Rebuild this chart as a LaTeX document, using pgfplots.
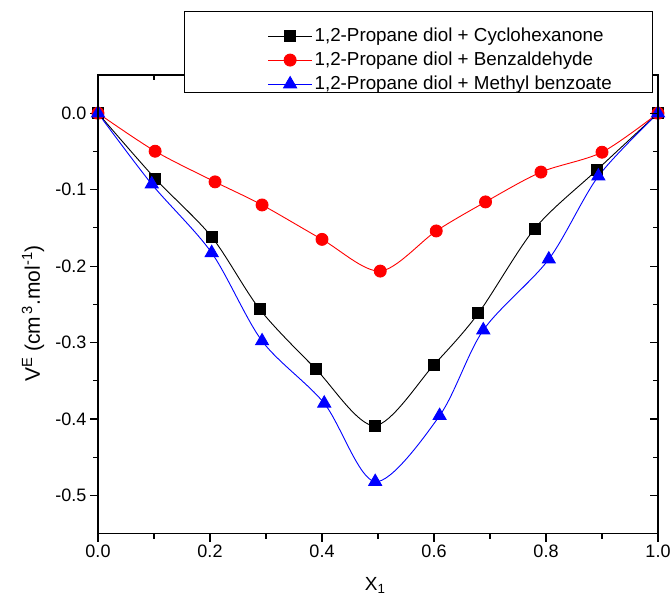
\documentclass[border=0pt]{standalone}
\usepackage{fontspec}
\setmainfont{Liberation Sans}
\usepackage{pgfplots}
\pgfplotsset{compat=1.18}
\begin{document}
\begin{tikzpicture}
\path[use as bounding box] (0pt,0pt) rectangle (671pt,605pt);
\pgfplotsset{
  common/.style={
    at={(98pt,71.3pt)}, anchor=south west, scale only axis,
    width=560pt, height=458.7pt,
    xmin=0, xmax=1, ymin=-0.55, ymax=0.05,
    xtick={0,0.2,0.4,0.6,0.8,1}, ytick={-0.5,-0.4,-0.3,-0.2,-0.1,0},
    minor x tick num=1, minor y tick num=1,
    axis line style={line width=1.2pt},
    every tick/.style={black, line width=1.1pt},
    every minor tick/.style={black, line width=1.1pt},
    major tick length=8pt, minor tick length=5pt,
  }
}
% main axis with data
\begin{axis}[common,
  xtick pos=bottom, ytick pos=left, tick align=outside,
  xticklabels={0.0,0.2,0.4,0.6,0.8,1.0},
  yticklabels={-0.5,-0.4,-0.3,-0.2,-0.1,0.0},
  tick label style={font=\fontsize{18}{20}\selectfont},
  xlabel={X\textsubscript{1}},
  ylabel={V\textsuperscript{E} (cm\textsuperscript{\,3}.mol\textsuperscript{-1})},
  xlabel style={font=\fontsize{19}{22}\selectfont, at={(axis description cs:0.495,-0.112)}, anchor=center},
  ylabel style={font=\fontsize{21}{24}\selectfont, at={(axis description cs:-0.116,0.48)}, anchor=center},
]
\addplot[black, line width=0.9pt, smooth, tension=0.5, mark=square*, mark size=5.5pt, mark options={solid}] coordinates {
(0,0) (0.102,-0.0854) (0.203,-0.1617) (0.289,-0.2566) (0.389,-0.3346) (0.494,-0.4087) (0.600,-0.329) (0.679,-0.2619) (0.780,-0.1508) (0.8905,-0.0745) (1,0)};
\addplot[red, line width=0.9pt, smooth, tension=0.5, mark=*, mark size=6pt] coordinates {
(0,0) (0.102,-0.0497) (0.209,-0.0898) (0.293,-0.120) (0.400,-0.165) (0.504,-0.2065) (0.604,-0.154) (0.692,-0.116) (0.791,-0.077) (0.900,-0.051) (1,0)};
\addplot[blue, line width=0.9pt, smooth, tension=0.5, mark=triangle*, mark size=7.5pt] coordinates {
(0,0) (0.096,-0.0928) (0.203,-0.1826) (0.293,-0.298) (0.404,-0.3795) (0.495,-0.482) (0.610,-0.3957) (0.688,-0.2837) (0.805,-0.191) (0.8935,-0.0824) (1,0)};
\end{axis}
% mirrored inward ticks on top and right
\begin{axis}[common,
  xtick pos=top, ytick pos=right, tick align=inside,
  xticklabels={}, yticklabels={},
]
\end{axis}
% legend box
\draw[fill=white, line width=1pt] (184pt,593pt) rectangle (652pt,512pt);
\begin{axis}[common, hide axis,
  legend style={draw=none, fill=none, at={(axis description cs:0.303,1.111)}, anchor=north west,
    inner sep=0pt, outer sep=0pt, row sep=0pt,
    nodes={inner sep=2pt, text height=15pt, text depth=5pt},
    font=\fontsize{18.8}{22}\selectfont},
  legend cell align=left,
  legend image code/.code={\draw[mark repeat=2,mark phase=2,#1] plot coordinates {(0pt,0pt)(22pt,0pt)(44pt,0pt)};},
]
\addlegendimage{black, line width=0.9pt, mark=square*, mark size=5.5pt}
\addlegendentry{1,2-Propane diol + Cyclohexanone}
\addlegendimage{red, line width=0.9pt, mark=*, mark size=6pt}
\addlegendentry{1,2-Propane diol + Benzaldehyde}
\addlegendimage{blue, line width=0.9pt, mark=triangle*, mark size=7.5pt}
\addlegendentry{1,2-Propane diol + Methyl benzoate}
\end{axis}
\end{tikzpicture}
\end{document}
